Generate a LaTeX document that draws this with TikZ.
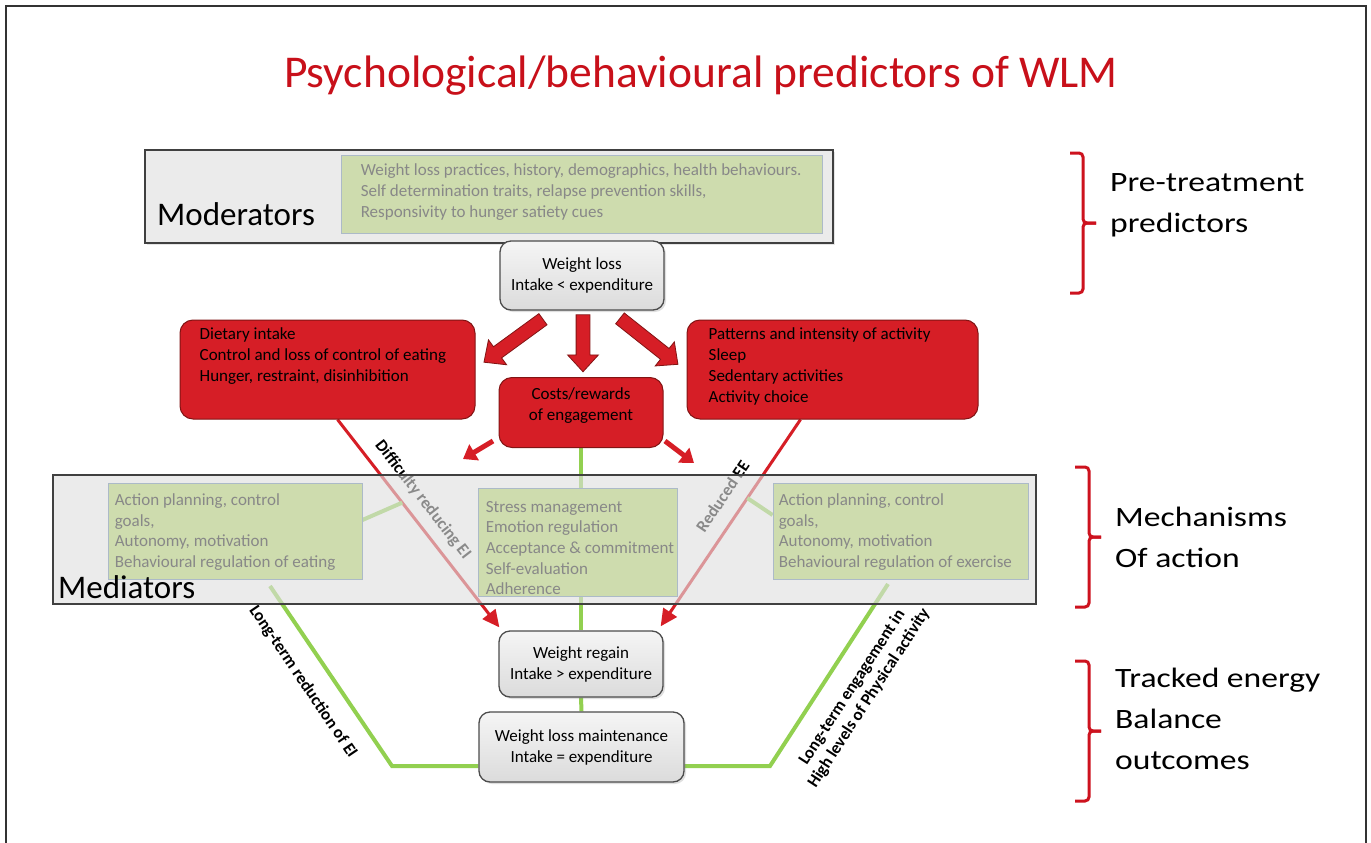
\documentclass[tikz,border=0pt]{standalone}
\usepackage{fontspec}
\setmainfont{Carlito}
\newfontfamily\widefont[FakeStretch=1.2]{Carlito}
\usetikzlibrary{arrows.meta,shapes.arrows,calc,shadows}
\definecolor{boxred}{RGB}{214,30,38}
\definecolor{darkred}{RGB}{130,20,20}
\definecolor{modgray}{RGB}{235,235,235}
\definecolor{medgray}{RGB}{223,223,223}
\definecolor{greenfill}{RGB}{206,220,174}
\definecolor{greenborder}{RGB}{172,186,200}
\definecolor{greentext}{RGB}{136,136,136}
\definecolor{linegreen}{RGB}{146,208,80}
\definecolor{titlered}{RGB}{200,16,26}
\definecolor{bracered}{RGB}{205,18,30}
\pgfdeclarelayer{bg}
\pgfdeclarelayer{lines}
\pgfdeclarelayer{medbox}
\pgfsetlayers{bg,lines,medbox,main}
\tikzset{
 graybox/.style={draw=black!75, line width=1.3pt, fill=modgray, inner sep=0pt},
 greenbox/.style={fill=greenfill, draw=greenborder, line width=0.8pt, inner sep=0pt},
 gtext/.style={text=greentext, font=\fontsize{17}{20.6}\selectfont, align=left, inner sep=0pt, anchor=west},
 redbox/.style={rounded corners=13pt, fill=boxred, draw=darkred, line width=1pt, inner sep=0pt},
 rtext/.style={font=\fontsize{17}{21}\selectfont, align=left, inner sep=0pt, anchor=west},
 wbox/.style={rounded corners=11pt, top color=gray!8, bottom color=gray!28, draw=black!70, line width=1.3pt, font=\fontsize{17}{21}\selectfont, align=center, inner sep=0pt, drop shadow={opacity=0.25, shadow xshift=2pt, shadow yshift=-2pt}},
 blockarrow/.style={single arrow, fill=boxred, draw=darkred, line width=0.8pt, inner sep=6.5pt, single arrow head extend=8.5pt, single arrow tip angle=85, anchor=center},
 smallarrow/.style={draw=boxred, line width=5pt, -{Triangle[width=18pt,length=13pt]}},
 redline/.style={draw=boxred, line width=3pt, -{Triangle[width=16pt,length=17pt]}},
 greenline/.style={draw=linegreen, line width=4pt},
 diaglabel/.style={font=\fontsize{17}{20}\selectfont\bfseries, sloped, align=center},
 bracepath/.style={draw=bracered, line width=3pt, rounded corners=4pt},
 sidelabel/.style={font=\widefont\fontsize{28}{41}\selectfont, align=left, anchor=base west, inner sep=0pt},
 biglabel/.style={font=\fontsize{33}{36}\selectfont, anchor=base west, inner sep=0pt},
}
\begin{document}
\begin{tikzpicture}[x=1pt,y=-1pt]
\useasboundingbox (0,0) rectangle (1371,843);
\begin{pgfonlayer}{bg}
\fill[white] (0,0) rectangle (1371,843);
\draw[line width=2pt, black!80] (6,850) -- (6,6) -- (1366,6) -- (1366,850);
\end{pgfonlayer}

% title
\node[font=\fontsize{45.5}{50}\selectfont, text=titlered, anchor=base, inner sep=0pt] (title) at (701,88) {Psychological/behavioural predictors of WLM};

% moderators
\node[graybox, minimum width=688pt, minimum height=93pt, drop shadow={opacity=0.2, shadow xshift=2pt, shadow yshift=-2pt}] (mod) at (489,196.5) {};
\node[greenbox, minimum width=481pt, minimum height=78pt] (modg) at (581.5,194) {};
\node[gtext] (modgt) at ($(modg.west)+(20,-2)$) {Weight loss practices, history, demographics, health behaviours.\\Self determination traits, relapse prevention skills,\\Responsivity to hunger satiety cues};
\node[biglabel] (modl) at (157,225) {Moderators};

% weight loss
\node[wbox, minimum width=164pt, minimum height=69pt] (wl) at (582,275.5) {Weight loss\\Intake {\char`\<} expenditure};

% red boxes
\node[redbox, minimum width=295pt, minimum height=99pt] (dl) at (327.5,369.5) {};
\node[rtext] (dlt) at ($(dl.west)+(20,-13.5)$) {Dietary intake\\Control and loss of control of eating\\Hunger, restraint, disinhibition};
\node[redbox, minimum width=291pt, minimum height=99pt] (pa) at (832.5,369.5) {};
\node[rtext] (pat) at ($(pa.west)+(22,-3.5)$) {Patterns and intensity of activity\\Sleep\\Sedentary activities\\Activity choice};
\node[redbox, minimum width=164pt, minimum height=70pt] (cr) at (581,412.5) {};
\node[font=\fontsize{17}{21}\selectfont, align=center, inner sep=0pt] (crt) at (581,406) {Costs/rewards\\of engagement};

% block arrows
\coordinate (a1s) at (546,317); \coordinate (a1e) at (487,360);
\coordinate (a2s) at (583,311); \coordinate (a2e) at (583,368);
\coordinate (a3s) at (617,316); \coordinate (a3e) at (675,362);
\foreach \s/\e in {a1s/a1e,a2s/a2e,a3s/a3e}{
  \path let \p1=(\s), \p2=(\e), \n1={atan2(\y2-\y1,\x2-\x1)}, \n2={veclen(\x2-\x1,\y2-\y1)} in
    node[blockarrow, rotate=\n1, minimum height=\n2] at ($(\s)!0.5!(\e)$) {};
}
% small arrows
\coordinate (s1s) at (493,441); \coordinate (s1e) at (463,459);
\coordinate (s2s) at (665,441); \coordinate (s2e) at (694,463);
\draw[smallarrow] (s1s) -- (s1e);
\draw[smallarrow] (s2s) -- (s2e);

% mediators
\begin{pgfonlayer}{medbox}
\node[fill=medgray, fill opacity=0.62, draw=black!75, line width=1.3pt, minimum width=983pt, minimum height=129pt, inner sep=0pt] (med) at (544.5,539.5) {};
\end{pgfonlayer}
\node[greenbox, minimum width=254pt, minimum height=96pt] (gl) at (235,531) {};
\node[gtext] (glt) at ($(gl.west)+(7,1)$) {Action planning, control\\goals,\\Autonomy, motivation\\Behavioural regulation of eating};
\node[greenbox, minimum width=199pt, minimum height=108pt] (gc) at (577.5,542) {};
\node[gtext] (gct) at ($(gc.west)+(8,6)$) {Stress management\\Emotion regulation\\Acceptance \& commitment\\Self-evaluation\\Adherence};
\node[greenbox, minimum width=255pt, minimum height=96pt] (gr) at (900.5,531) {};
\node[gtext] (grt) at ($(gr.west)+(6,1)$) {Action planning, control\\goals,\\Autonomy, motivation\\Behavioural regulation of exercise};
\node[biglabel] (medl) at (58,598) {Mediators};

% outcome boxes
\node[wbox, minimum width=164pt, minimum height=66pt] (wr) at (581,664) {Weight regain\\Intake {\char`\>} expenditure};
\node[wbox, minimum width=205pt, minimum height=70pt] (wm) at (581.5,747) {Weight loss maintenance\\Intake = expenditure};

% lines under the mediators box
\begin{pgfonlayer}{lines}
\coordinate (r1s) at ($(dl.south)+(10,0)$);
\coordinate (r1e) at ($(wr.north west)+(1,-3)$);
\coordinate (r2s) at ($(pa.south)+(-32,0)$);
\coordinate (r2e) at ($(wr.north east)+(-3,-4)$);
\draw[redline] (r1s) -- (r1e) node[diaglabel, pos=0.44, above, inner sep=9pt] {Difficulty reducing EI};
\draw[redline] (r2s) -- (r2e) node[diaglabel, pos=0.43, above, inner sep=14pt] {Reduced EE};
\coordinate (c1) at ($(r1s)!0.4!(r1e)$);
\coordinate (c2) at ($(r2s)!0.38!(r2e)$);
\draw[greenline] (gl.east |- 0,520) -- (c1);
\draw[greenline] (gr.west |- 0,515) -- (c2);
\draw[greenline] (cr.south) -- (cr.south |- gc.north);
\draw[greenline] (gc.south -| wr.north) -- (wr.north);
\draw[greenline] (wr.south) -- (wm.north);
\coordinate (lg1) at (270,586);
\coordinate (lg2) at (392,766);
\coordinate (rg1) at (888,584);
\coordinate (rg2) at (770,766);
\draw[greenline] (lg1) -- (lg2) node[diaglabel, pos=0.45, below, inner sep=17pt] {Long-term reduction of EI} -- (wm.south west |- lg2);
\draw[greenline] (rg1) -- (rg2) node[diaglabel, pos=0.49, below, inner sep=17pt] {Long-term engagement in\\High levels of Physical activity} -- (wm.south east |- rg2);
\end{pgfonlayer}

% braces
\draw[bracepath] (1070,153) -- (1083,153) -- (1083,223) -- (1096,223);
\draw[bracepath] (1096,223) -- (1083,223) -- (1083,293) -- (1070,293);
\draw[bracepath] (1075,467) -- (1089,467) -- (1089,537) -- (1101,537);
\draw[bracepath] (1101,537) -- (1089,537) -- (1089,607) -- (1075,607);
\draw[bracepath] (1075,661) -- (1089,661) -- (1089,731) -- (1101,731);
\draw[bracepath] (1101,731) -- (1089,731) -- (1089,801) -- (1075,801);
\node[sidelabel] (pt) at (1110,232) {Pre-treatment\\predictors};
\node[sidelabel] (ma) at (1115,567) {Mechanisms\\Of action};
\node[sidelabel] (te) at (1115,769) {Tracked energy\\Balance\\outcomes};
\end{tikzpicture}
\end{document}
